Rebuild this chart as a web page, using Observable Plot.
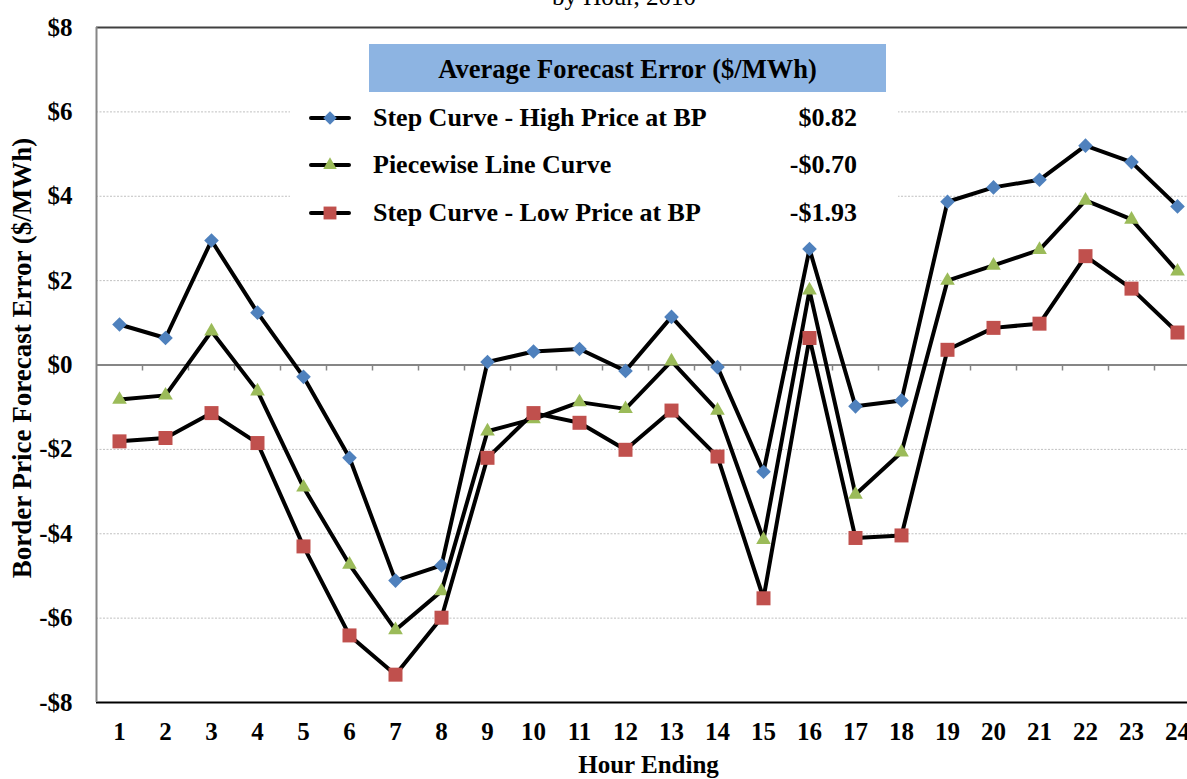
<!DOCTYPE html>
<html>
<head>
<meta charset="utf-8">
<script src="https://cdn.jsdelivr.net/npm/d3@7"></script>
<script src="https://cdn.jsdelivr.net/npm/@observablehq/plot@0.6"></script>
<style>
  html, body { margin: 0; padding: 0; overflow: hidden; background: #fff; }
  #wrap { position: relative; width: 1200px; height: 779px; font-family: "Liberation Serif", "Times New Roman", serif; }
  #title { position: absolute; left: 324px; width: 600px; top: -16px; text-align: center; font-size: 25px; line-height: 25px; color: #000; }
  #legend { position: absolute; left: 290px; top: 36px; width: 608px; height: 196px; background: #fff; }
  #legend .head { position: absolute; left: 79px; top: 8px; width: 517px; height: 48px; background: #8DB4E2;
    font-weight: bold; font-size: 26.5px; line-height: 50px; text-align: center; }
  #legend .row { position: absolute; left: 0; width: 608px; height: 30px; font-weight: bold; font-size: 26px; line-height: 30px; }
  #legend .row svg { position: absolute; left: 18px; top: 0; }
  #legend .name { position: absolute; left: 83px; }
  #legend .val { position: absolute; right: 41px; }
</style>
</head>
<body>
<div id="wrap">
  <div id="title">by Hour, 2010</div>
</div>
<script>
// Hour-ending categories
const hours = [1, 2, 3, 4, 5, 6, 7, 8, 9, 10, 11, 12, 13, 14, 15, 16, 17, 18, 19, 20, 21, 22, 23, 24];

// Border price forecast error ($/MWh) by hour for each curve method
const stepHigh = [0.96, 0.64, 2.95, 1.24, -0.28, -2.20, -5.11, -4.75, 0.07, 0.32, 0.38, -0.14,
                  1.14, -0.05, -2.53, 2.75, -0.98, -0.84, 3.87, 4.21, 4.39, 5.20, 4.81, 3.76];
const piecewise = [-0.82, -0.72, 0.80, -0.62, -2.90, -4.73, -6.28, -5.36, -1.57, -1.28, -0.88, -1.04,
                   0.09, -1.08, -4.14, 1.77, -3.07, -2.07, 2.00, 2.36, 2.73, 3.90, 3.45, 2.22];
const stepLow = [-1.81, -1.73, -1.14, -1.85, -4.30, -6.41, -7.34, -5.99, -2.20, -1.14, -1.37, -2.01,
                 -1.08, -2.17, -5.53, 0.64, -4.10, -4.04, 0.36, 0.88, 0.98, 2.58, 1.81, 0.77];

// Series names and their average error over all hours
const seriesNames = ["Step Curve - High Price at BP", "Piecewise Line Curve", "Step Curve - Low Price at BP"];
const seriesAverages = ["$0.82", "-$0.70", "-$1.93"];
const seriesColors = ["#4F81BD", "#9BBB59", "#C0504D"];
const seriesSymbols = ["diamond2", "triangle2", "square"];
const legendTitle = "Average Forecast Error ($/MWh)";

// Axis ticks
const yTicks = [8, 6, 4, 2, 0, -2, -4, -6, -8];
const yTickLabels = ["$8", "$6", "$4", "$2", "$0", "-$2", "-$4", "-$6", "-$8"];
const yGrid = [6, 4, 2, -2, -4, -6];
const hourBoundaries = [1.5, 2.5, 3.5, 4.5, 5.5, 6.5, 7.5, 8.5, 9.5, 10.5, 11.5, 12.5,
                        13.5, 14.5, 15.5, 16.5, 17.5, 18.5, 19.5, 20.5, 21.5, 22.5, 23.5];
const xTitle = "Hour Ending";
const yTitle = "Border Price Forecast Error ($/MWh)";

const seriesValues = [stepHigh, piecewise, stepLow];
const series = seriesValues.map((vals, s) => hours.map((h, i) => ({hour: h, value: vals[i], s})));

const symbolSizes = [6.6, 7.0, 7.9];

const seriesMarks = series.flatMap((rows, s) => [
  Plot.line(rows, {x: "hour", y: "value", stroke: "#000", strokeWidth: 4, strokeLinejoin: "round"}),
  Plot.dot(rows, {x: "hour", y: "value", symbol: () => seriesSymbols[s], r: symbolSizes[s],
                  fill: seriesColors[s], stroke: "none"})
]);

const chart = Plot.plot({
  width: 1200,
  height: 779,
  marginLeft: 96,
  marginRight: 0,
  marginTop: 27,
  marginBottom: 77,
  x: {domain: [0.5, 24.5], axis: null},
  y: {domain: [-8, 8], axis: null},
  symbol: {type: "identity"},
  style: {fontFamily: "'Liberation Serif', 'Times New Roman', serif", fontSize: "25px", fontWeight: "bold", background: "transparent", overflow: "visible"},
  marks: [
    Plot.ruleY(yGrid, {stroke: "#c0c0c0", strokeWidth: 1, strokeDasharray: "2,1.5"}),
    Plot.ruleY([8], {stroke: "#404040", strokeWidth: 2}),
    Plot.ruleY([-8], {stroke: "#000", strokeWidth: 2}),
    Plot.ruleY([0], {stroke: "#868686", strokeWidth: 2}),
    Plot.ruleX(hourBoundaries, {x: d => d, y1: 0, y2: 0, insetBottom: -6, stroke: "#868686", strokeWidth: 1.5}),
    Plot.ruleX([0.5], {stroke: "#868686", strokeWidth: 2}),
    ...seriesMarks,
    Plot.text(yTicks, {y: d => d, frameAnchor: "left", dx: -24, textAnchor: "end", text: (d, i) => yTickLabels[i], fill: "#000"}),
    Plot.text(hours, {x: d => d, frameAnchor: "bottom", dy: 37, text: d => String(d), fill: "#000"}),
    Plot.text([xTitle], {frameAnchor: "bottom", dy: 70, fill: "#000"}),
    Plot.text([yTitle], {frameAnchor: "left", dx: -74, dy: -7, rotate: -90, textAnchor: "middle", fontSize: 27, fill: "#000"})
  ]
});

const wrap = document.getElementById("wrap");
chart.style.position = "absolute";
chart.style.left = "0";
chart.style.top = "0";
wrap.insertBefore(chart, wrap.firstChild);

// Legend block with averages
const legend = d3.select(wrap).append("div").attr("id", "legend");
legend.append("div").attr("class", "head").text(legendTitle);
const rowTops = [67, 114, 162];
seriesNames.forEach((name, s) => {
  const row = legend.append("div").attr("class", "row").style("top", rowTops[s] + "px");
  const svg = row.append("svg").attr("width", 50).attr("height", 30);
  svg.append("line").attr("x1", 3).attr("x2", 41).attr("y1", 15).attr("y2", 15)
    .attr("stroke", "#000").attr("stroke-width", 4).attr("stroke-linecap", "round");
  const symType = [d3.symbolDiamond2, d3.symbolTriangle2, d3.symbolSquare][s];
  const r = symbolSizes[s] * 0.92;
  svg.append("path").attr("transform", "translate(22,15)")
    .attr("d", d3.symbol(symType, Math.PI * r * r)())
    .attr("fill", seriesColors[s]);
  row.append("span").attr("class", "name").text(name);
  row.append("span").attr("class", "val").text(seriesAverages[s]);
});
</script>
</body>
</html>
